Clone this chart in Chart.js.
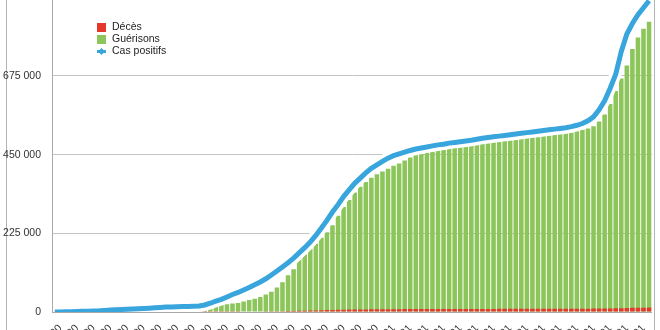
<!DOCTYPE html>
<html>
<head>
<meta charset="utf-8">
<script src="https://cdn.jsdelivr.net/npm/chart.js@4"></script>
<style>
  body { margin: 0; width: 660px; height: 330px; overflow: hidden; background: #fff; position: relative; }
  #chart { position: absolute; left: 0; top: -20px; }
  .frame { position: absolute; top: 0; width: 1px; height: 330px; background: #b4b4b4; }
</style>
</head>
<body>
<div class="frame" style="left:6px"></div>
<div class="frame" style="left:654px"></div>
<canvas id="chart" width="660" height="376"></canvas>
<script>
// one tick label every 3 bars (bars are 5 days apart)
const tickLabels = [
  "07/03/2020", "22/03/2020", "06/04/2020", "21/04/2020", "06/05/2020", "21/05/2020",
  "05/06/2020", "20/06/2020", "05/07/2020", "20/07/2020", "04/08/2020", "19/08/2020",
  "03/09/2020", "18/09/2020", "03/10/2020", "18/10/2020", "02/11/2020", "17/11/2020",
  "02/12/2020", "17/12/2020", "01/01/2021", "16/01/2021", "31/01/2021", "15/02/2021",
  "02/03/2021", "17/03/2021", "01/04/2021", "16/04/2021", "01/05/2021", "16/05/2021",
  "31/05/2021", "15/06/2021", "30/06/2021", "15/07/2021", "30/07/2021", "14/08/2021",
];

// values in thousands
const casPositifs = [
  0, 0.1, 0.4, 0.8, 1.2, 1.8, 2.5, 3, 3.5, 4.5,
  5.5, 6.5, 7.3, 7.8, 8.3, 9, 10, 11, 12, 13,
  14, 14.5, 15, 15.5, 16, 16.5, 17, 20, 25, 31,
  36, 43, 50, 56, 63, 70, 78, 86, 95, 106,
  117, 129, 141, 154, 169, 184, 200, 219, 240, 262,
  286, 307, 330, 349, 368, 383, 398, 411, 421, 431,
  440, 447, 452, 457, 462, 466, 469, 472, 475, 478,
  480, 483, 485, 487, 489, 491, 494, 497, 499, 501,
  503, 505, 507, 509, 511, 513, 515, 517, 519, 521,
  523, 525, 527, 530, 534, 539, 547, 558, 578, 604,
  640, 680, 745, 795, 825, 850, 870, 890,
];

const guerisons = [
  0, 0, 0.1, 0.2, 0.3, 0.5, 0.7, 1, 1.5, 2,
  2.8, 3.5, 4.2, 5, 5.6, 6.2, 6.8, 7.3, 7.8, 8.3,
  9, 9.5, 10, 10.5, 11, 12, 13, 14, 16, 18,
  20, 22, 24, 26, 30, 34, 38, 43, 50, 58,
  70, 85, 105, 122, 150, 165, 180, 196, 212, 228,
  248, 275, 300, 320, 342, 358, 372, 384, 394, 402,
  410, 418, 425, 433, 442, 448, 452, 456, 459, 462,
  465, 468, 471, 473, 475, 477, 479, 482, 484, 486,
  488, 490, 492, 494, 496, 498, 500, 502, 503, 505,
  507, 509, 511, 513, 517, 521, 525, 531, 545, 565,
  595, 632, 668, 705, 752, 785, 810, 830,
];

const deces = [
  0, 0, 0, 0.01, 0.03, 0.07, 0.1, 0.13, 0.16, 0.17,
  0.19, 0.19, 0.2, 0.2, 0.21, 0.21, 0.22, 0.22, 0.22, 0.23,
  0.23, 0.24, 0.25, 0.26, 0.29, 0.32, 0.35, 0.4, 0.45, 0.5,
  0.6, 0.7, 0.8, 0.95, 1.1, 1.3, 1.5, 1.7, 1.9, 2.1,
  2.3, 2.5, 2.8, 3.1, 3.4, 3.8, 4.2, 4.6, 5.0, 5.4,
  5.8, 6.2, 6.5, 6.8, 7.0, 7.2, 7.4, 7.6, 7.8, 7.9,
  8.0, 8.1, 8.2, 8.3, 8.3, 8.4, 8.4, 8.5, 8.5, 8.6,
  8.6, 8.7, 8.7, 8.7, 8.8, 8.8, 8.8, 8.9, 8.9, 8.9,
  9.0, 9.0, 9.0, 9.1, 9.1, 9.1, 9.2, 9.2, 9.2, 9.2,
  9.3, 9.3, 9.3, 9.4, 9.4, 9.5, 9.6, 9.7, 9.8, 10.0,
  10.3, 10.6, 11.0, 11.4, 11.8, 12.2, 12.5, 12.8,
];

const categories = casPositifs.map((_, i) =>
  i % 3 === 1 ? tickLabels[(i - 1) / 3] : ""
);
const k = (arr) => arr.map((v) => v * 1000);

const colors = { deces: "#e4382c", guerisons: "#8cc55a", cas: "#38a5dc" };
const font = "Liberation Sans, Arial, sans-serif";

const fmt = (v) => String(v).replace(/\B(?=(\d{3})+(?!\d))/g, " ");

// legend drawn inside the plot, top left
const insideLegend = {
  id: "insideLegend",
  afterDraw(chart) {
    const ctx = chart.ctx;
    const x = 97, y0 = 47.5;
    ctx.save();
    ctx.font = "10.5px " + font;
    ctx.textBaseline = "middle";
    ctx.fillStyle = colors.deces;
    ctx.fillRect(x, y0 - 4.5, 9, 9);
    ctx.fillStyle = colors.guerisons;
    ctx.fillRect(x, y0 + 7.5, 9, 9);
    ctx.strokeStyle = colors.cas;
    ctx.lineWidth = 3;
    ctx.beginPath();
    ctx.moveTo(x, y0 + 24);
    ctx.lineTo(x + 9, y0 + 24);
    ctx.stroke();
    ctx.fillStyle = colors.cas;
    ctx.beginPath();
    ctx.moveTo(x + 4.5, y0 + 20.5);
    ctx.lineTo(x + 8, y0 + 24);
    ctx.lineTo(x + 4.5, y0 + 27.5);
    ctx.lineTo(x + 1, y0 + 24);
    ctx.fill();
    ctx.fillStyle = "#222";
    ctx.fillText("Décès", x + 15, y0);
    ctx.fillText("Guérisons", x + 15, y0 + 12);
    ctx.fillText("Cas positifs", x + 15, y0 + 24);
    ctx.restore();
  },
};

new Chart(document.getElementById("chart"), {
  type: "bar",
  data: {
    labels: categories,
    datasets: [
      {
        type: "line",
        label: "Cas positifs",
        data: k(casPositifs),
        borderColor: colors.cas,
        borderWidth: 5,
        pointRadius: 0,
        tension: 0,
        order: 0,
      },
      {
        type: "line",
        label: "halo",
        data: k(casPositifs),
        borderColor: "#ffffff",
        borderWidth: 12,
        pointRadius: 0,
        tension: 0,
        order: 1,
      },
      {
        label: "Décès",
        data: k(deces),
        backgroundColor: colors.deces,
        order: 2,
      },
      {
        label: "Guérisons",
        data: k(guerisons),
        backgroundColor: colors.guerisons,
        order: 3,
      },
    ],
  },
  options: {
    responsive: false,
    animation: false,
    layout: { padding: { top: 10, right: 8, left: 0, bottom: 0 } },
    datasets: {
      bar: { grouped: false, categoryPercentage: 1, barPercentage: 0.82 },
    },
    plugins: { legend: { display: false }, tooltip: { enabled: false } },
    scales: {
      x: {
        grid: { display: false },
        border: { color: "#aaaaaa" },
        afterFit(scale) { scale.height = 44; },
        ticks: {
          autoSkip: false,
          minRotation: 45,
          maxRotation: 45,
          padding: 2,
          color: "#333",
          font: { family: font, size: 10.5 },
          callback(v) { return this.getLabelForValue(v); },
        },
      },
      y: {
        min: 0,
        max: 900000,
        afterFit(scale) { scale.width = 52; },
        border: { color: "#aaaaaa" },
        grid: { color: "#c4c4c4", drawTicks: false },
        ticks: {
          stepSize: 225000,
          padding: 11,
          color: "#333",
          font: { family: font, size: 10.5 },
          callback: (v) => fmt(v),
        },
      },
    },
  },
  plugins: [insideLegend],
});
</script>
</body>
</html>
